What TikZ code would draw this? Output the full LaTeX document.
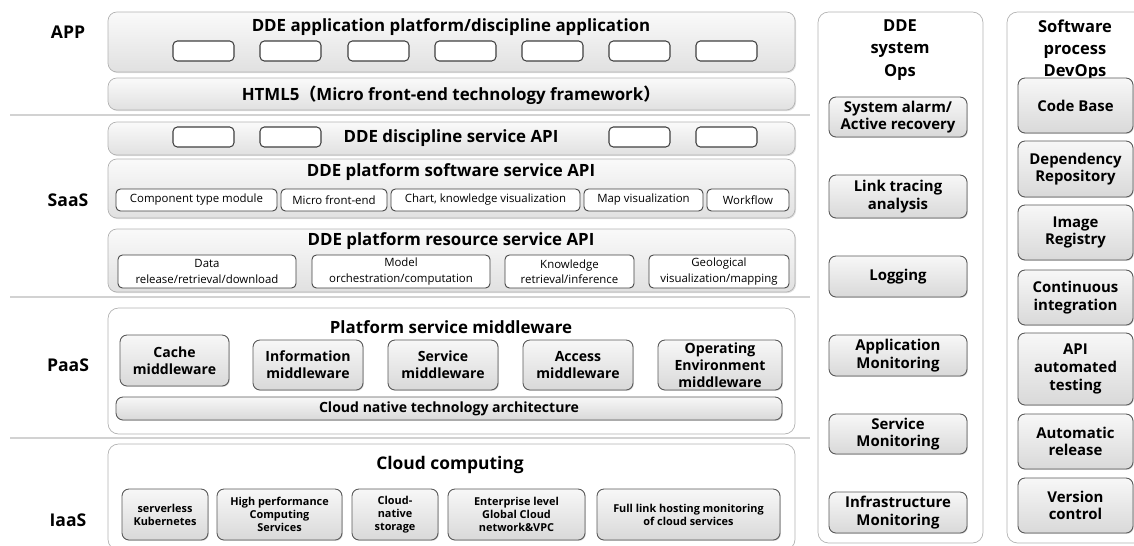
\documentclass[tikz,border=0pt]{standalone}
\usepackage{fontspec}
\setmainfont{Open Sans}
\newfontfamily\cjkfont{Noto Sans CJK SC}
\usetikzlibrary{shadows}
\tikzset{
  sep/.style={gray!35, line width=1.6pt},
  layer/.style={draw=gray!60, rounded corners=5pt, top color=gray!4, bottom color=gray!24,
    drop shadow={opacity=0.25, shadow xshift=0.6pt, shadow yshift=-0.6pt}},
  frame/.style={draw=gray!60, rounded corners=6pt, fill=white},
  slot/.style={draw=black!75, fill=white, rounded corners=2.5pt, line width=0.6pt},
  item/.style={draw=black!75, fill=white, rounded corners=2.5pt, line width=0.5pt},
  block/.style={draw=black!65, rounded corners=4pt, top color=gray!6, bottom color=gray!30, line width=0.5pt,
    drop shadow={opacity=0.3, shadow xshift=0.5pt, shadow yshift=-0.5pt}},
  tier/.style={font=\bfseries\fontsize{10}{12}\selectfont},
  title/.style={font=\bfseries\fontsize{9.6}{11}\selectfont},
  coltitle/.style={font=\bfseries\fontsize{9.4}{12.7}\selectfont, align=center},
  itemtext/.style={font=\fontsize{6.5}{8.6}\selectfont, align=center},
  blocktext/.style={font=\bfseries\fontsize{8}{9.6}\selectfont, align=center},
  smalltext/.style={font=\bfseries\fontsize{6.2}{7.4}\selectfont, align=center},
  opstext/.style={font=\bfseries\fontsize{8.5}{10}\selectfont, align=center}
}
\begin{document}
\begin{tikzpicture}[x=0.02cm, y=-0.02cm]
\useasboundingbox (0,0) rectangle (1134,545);
\foreach \y in {115,297,438} \draw[sep] (10,\y) -- (810,\y);
\node[tier] (app) at (68,32) {APP};
\node[tier] (saas) at (68,200) {SaaS};
\node[tier] (paas) at (68,365) {PaaS};
\node[tier] (iaas) at (68,520) {IaaS};
% APP
\draw[layer] (108,12) rectangle (795,72);
\node[title] (apptitle) at (451,27) {DDE application platform/discipline application};
\foreach \x in {173,260,348,435,522,609,696} \draw[slot] (\x,41) rectangle (\x+61,61);
\draw[layer] (108,78) rectangle (795,110);
\node[title] (html) at (451,95) {HTML5{\cjkfont （}Micro front-end technology framework{\cjkfont ）}};
% SaaS
\draw[layer] (108,122) rectangle (795,155);
\foreach \x in {173,260,609,696} \draw[slot] (\x,127) rectangle (\x+61,147);
\node[title] (discapi) at (451,138) {DDE discipline service API};
\draw[layer] (108,159) rectangle (795,218);
\node[title] (softapi) at (451,172) {DDE platform software service API};
\foreach \a/\b/\t [count=\i] in {116/277/Component type module, 281/387/Micro front-end,
    391/580/{Chart, knowledge visualization}, 584/703/Map visualization, 707/789/Workflow}{
  \draw[item] (\a,189) rectangle (\b,211);
  \node[itemtext] (soft\i) at ({(\a+\b)/2},200) {\t};
}
\draw[layer] (108,229) rectangle (795,292);
\node[title] (resapi) at (451,241) {DDE platform resource service API};
\foreach \a/\b/\t [count=\i] in {118/296/{Data\\release/retrieval/download}, 312/490/{Model\\orchestration/computation},
    505/634/{Knowledge\\retrieval/inference}, 649/789/{Geological\\visualization/mapping}}{
  \draw[item] (\a,255) rectangle (\b,288);
  \node[itemtext] (res\i) at ({(\a+\b)/2},271.5) {\t};
}
% PaaS
\draw[frame] (108,308) rectangle (795,434);
\node[title] (midtitle) at (451,327) {Platform service middleware};
\draw[block] (120,335) rectangle (229,386);
\node[blocktext] (cache) at (174.5,360.5) {Cache\\middleware};
\foreach \a/\b/\t [count=\i] in {253/363/{Information\\middleware}, 388/498/{Service\\middleware},
    523/633/{Access\\middleware}, 658/782/{Operating\\Environment\\middleware}}{
  \draw[block] (\a,340) rectangle (\b,390);
  \node[blocktext] (mid\i) at ({(\a+\b)/2},365) {\t};
}
\draw[block] (116,397) rectangle (782,420);
\node[blocktext] (cloudnative) at (449,408.5) {Cloud native technology architecture};
% IaaS
\draw[frame] (108,444) rectangle (795,550);
\node[title, font=\bfseries\fontsize{9.9}{11}\selectfont] (cloudtitle) at (450,465) {Cloud computing};
\foreach \a/\b/\t [count=\i] in {122/208/{serverless\\Kubernetes}, 217/342/{High performance\\Computing\\Services},
    352/438/{Cloud-\\native\\storage}, 448/585/{Enterprise level\\Global Cloud\\network\&VPC},
    597/780/{Full link hosting monitoring\\of cloud services}}{
  \draw[block] (\a,489) rectangle (\b,540);
  \node[smalltext] (iaas\i) at ({(\a+\b)/2},514.5) {\t};
}
% DDE system Ops
\draw[frame] (818,12) rectangle (983,543);
\node[coltitle] (opstitle) at (900,50) {DDE\\system\\Ops};
\foreach \a/\b/\t [count=\i] in {97/137/{System alarm/\\Active recovery}, 175/218/{Link tracing\\analysis},
    256/297/Logging, 335/376/{Application\\Monitoring}, 414/454/{Service\\Monitoring},
    492/533/{Infrastructure\\Monitoring}}{
  \draw[block] (829,\a) rectangle (967,\b);
  \node[opstext] (ops\i) at (898,{(\a+\b)/2}) {\t};
}
% Software process DevOps
\draw[frame] (1007,12) rectangle (1150,543);
\node[coltitle] (devtitle) at (1075,50) {Software\\process\\DevOps};
\foreach \a/\b/\t [count=\i] in {78/133/Code Base, 141/197/{Dependency\\Repository}, 205/260/{Image\\Registry},
    270/325/{Continuous\\integration}, 333/405/{API\\automated\\testing}, 414/469/{Automatic\\release},
    478/533/{Version\\control}}{
  \draw[block] (1018,\a) rectangle (1133,\b);
  \node[opstext] (dev\i) at (1075.5,{(\a+\b)/2}) {\t};
}
\end{tikzpicture}
\end{document}
